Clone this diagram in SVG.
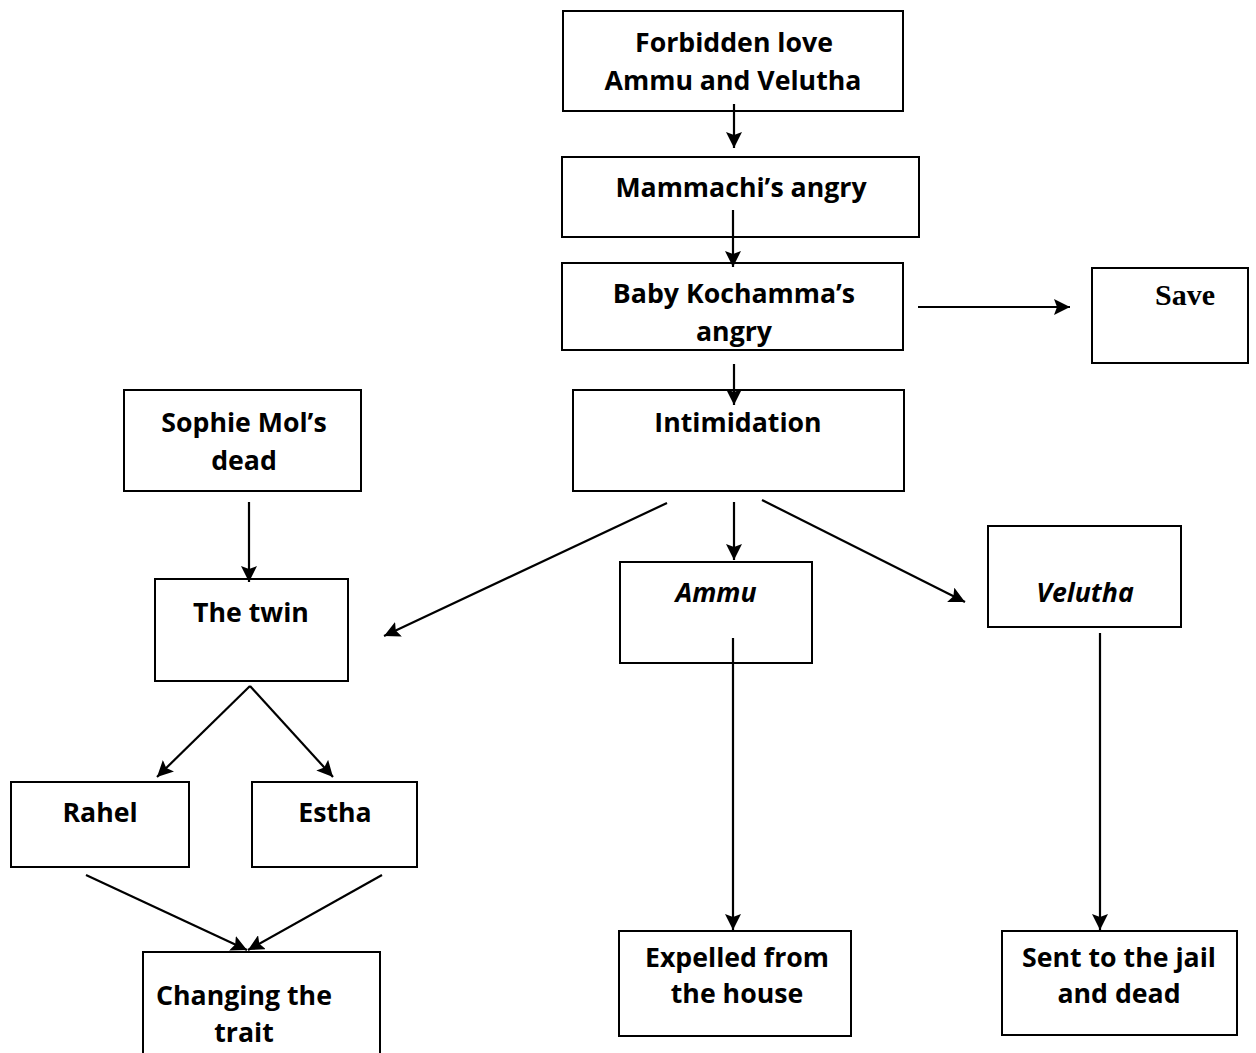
<svg xmlns="http://www.w3.org/2000/svg" width="1256" height="1053" viewBox="0 0 1256 1053">
<defs>
<marker id="ah" markerUnits="userSpaceOnUse" markerWidth="18" markerHeight="16" refX="16" refY="8" orient="auto">
<path d="M0,0 L16,8 L0,16 L3,8 z" fill="#000"/>
</marker>
<style>
rect{fill:#fff;stroke:#000;stroke-width:2}
text{font-family:"Open Sans",Lato,sans-serif;font-weight:bold;font-size:26.7px;fill:#000;text-anchor:middle}
.i{font-style:italic}
.t{font-family:"Liberation Serif","Times New Roman",serif;font-size:30px}
#connectors line{stroke:#000;stroke-width:2.2;marker-end:url(#ah)}
</style>
</defs>
<rect x="0" y="0" width="1256" height="1053" style="stroke:none"/>
<g id="n-forbidden"><rect x="563" y="11" width="340" height="100"/><text x="734" y="52">Forbidden love</text><text x="733" y="90">Ammu and Velutha</text></g>
<g id="n-mammachi"><rect x="562" y="157" width="357" height="80"/><text x="741" y="197">Mammachi’s angry</text></g>
<g id="n-baby"><rect x="562" y="263" width="341" height="87"/><text x="734" y="303">Baby Kochamma’s</text><text x="734" y="341">angry</text></g>
<g id="n-save"><rect x="1092" y="268" width="156" height="95"/><text class="t" x="1185" y="305">Save</text></g>
<g id="n-intimidation"><rect x="573" y="390" width="331" height="101"/><text x="738" y="432">Intimidation</text></g>
<g id="n-sophie"><rect x="124" y="390" width="237" height="101"/><text x="244" y="432">Sophie Mol’s</text><text x="244" y="470">dead</text></g>
<g id="n-twin"><rect x="155" y="579" width="193" height="102"/><text x="251" y="622">The twin</text></g>
<g id="n-ammu"><rect x="620" y="562" width="192" height="101"/><text class="i" x="716" y="602">Ammu</text></g>
<g id="n-velutha"><rect x="988" y="526" width="193" height="101"/><text class="i" x="1085" y="602">Velutha</text></g>
<g id="n-rahel"><rect x="11" y="782" width="178" height="85"/><text x="100" y="822">Rahel</text></g>
<g id="n-estha"><rect x="252" y="782" width="165" height="85"/><text x="335" y="822">Estha</text></g>
<g id="n-changing"><rect x="143" y="952" width="237" height="115"/><text x="244" y="1005">Changing the</text><text x="244" y="1042">trait</text></g>
<g id="n-expelled"><rect x="619" y="931" width="232" height="105"/><text x="737" y="967">Expelled from</text><text x="737" y="1003">the house</text></g>
<g id="n-sent"><rect x="1002" y="931" width="235" height="104"/><text x="1119" y="967">Sent to the jail</text><text x="1119" y="1003">and dead</text></g>
<g id="connectors">
<line x1="734" y1="104" x2="734" y2="148"/>
<line x1="733" y1="210" x2="733" y2="267"/>
<line x1="734" y1="364" x2="734" y2="405"/>
<line x1="918" y1="307" x2="1070" y2="307"/>
<line x1="667" y1="503" x2="384" y2="636"/>
<line x1="734" y1="502" x2="734" y2="560"/>
<line x1="762" y1="500" x2="965" y2="602"/>
<line x1="249" y1="502" x2="249" y2="582"/>
<line x1="250" y1="686" x2="157" y2="777"/>
<line x1="250" y1="686" x2="333" y2="777"/>
<line x1="86" y1="875" x2="247" y2="950"/>
<line x1="382" y1="875" x2="248" y2="950"/>
<line x1="733" y1="638" x2="733" y2="930"/>
<line x1="1100" y1="633" x2="1100" y2="930"/>
</g>
</svg>
